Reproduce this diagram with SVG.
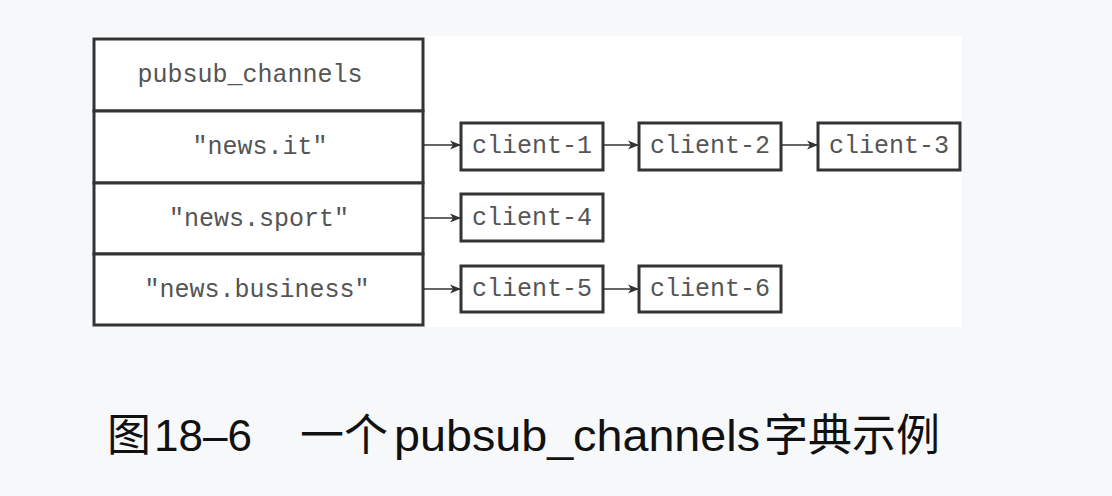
<svg xmlns="http://www.w3.org/2000/svg" width="1112" height="496" viewBox="0 0 1112 496">
<style>
.cell{fill:#fff;stroke:#333;stroke-width:3}
.box{fill:#fff;stroke:#333;stroke-width:3}
.mono{font-family:"Liberation Mono","Courier New",monospace;font-size:25px;fill:#555;text-anchor:middle}
.conn{stroke:#333;stroke-width:1.5;fill:none}
.cap{font-family:"Liberation Sans","Noto Sans CJK SC",sans-serif;font-size:44px;fill:#111}
</style>
<defs>
<marker id="ah" markerWidth="11" markerHeight="11" refX="10" refY="5.5" orient="auto" markerUnits="userSpaceOnUse">
<path d="M0,1 L11,5.5 L0,10 L3,5.5 Z" fill="#333"/>
</marker>
</defs>
<rect width="1112" height="496" fill="#f7f8fa"/>
<rect x="92" y="36" width="870" height="291" fill="#fff"/>
<g id="table">
<rect class="cell" x="94" y="39" width="329" height="72"/>
<rect class="cell" x="94" y="111" width="329" height="72"/>
<rect class="cell" x="94" y="183" width="329" height="71"/>
<rect class="cell" x="94" y="254" width="329" height="71"/>
<text class="mono" x="250" y="82">pubsub_channels</text>
<text class="mono" x="260" y="154">"news.it"</text>
<text class="mono" x="259" y="226">"news.sport"</text>
<text class="mono" x="257" y="297">"news.business"</text>
</g>
<g id="client-1"><rect class="box" x="461" y="123" width="142" height="47"/><text class="mono" x="532" y="153">client-1</text></g>
<g id="client-2"><rect class="box" x="639" y="123" width="142" height="47"/><text class="mono" x="710" y="153">client-2</text></g>
<g id="client-3"><rect class="box" x="818" y="123" width="142" height="47"/><text class="mono" x="889" y="153">client-3</text></g>
<g id="client-4"><rect class="box" x="461" y="194" width="142" height="47"/><text class="mono" x="532" y="225">client-4</text></g>
<g id="client-5"><rect class="box" x="461" y="266" width="142" height="46"/><text class="mono" x="532" y="296">client-5</text></g>
<g id="client-6"><rect class="box" x="639" y="266" width="142" height="46"/><text class="mono" x="710" y="296">client-6</text></g>
<g id="connectors">
<line class="conn" x1="424" y1="145" x2="460" y2="145" marker-end="url(#ah)"/>
<line class="conn" x1="604" y1="145" x2="638" y2="145" marker-end="url(#ah)"/>
<line class="conn" x1="782" y1="145" x2="817" y2="145" marker-end="url(#ah)"/>
<line class="conn" x1="424" y1="218" x2="460" y2="218" marker-end="url(#ah)"/>
<line class="conn" x1="424" y1="289" x2="460" y2="289" marker-end="url(#ah)"/>
<line class="conn" x1="604" y1="289" x2="638" y2="289" marker-end="url(#ah)"/>
</g>
<g id="caption">
<text class="cap" x="107" y="451">图</text>
<text class="cap" x="154" y="451" textLength="98" lengthAdjust="spacingAndGlyphs">18–6</text>
<text class="cap" x="300" y="451">一个</text>
<text class="cap" x="394" y="451" textLength="366" lengthAdjust="spacingAndGlyphs">pubsub_channels</text>
<text class="cap" x="764" y="451">字典示例</text>
</g>
</svg>
